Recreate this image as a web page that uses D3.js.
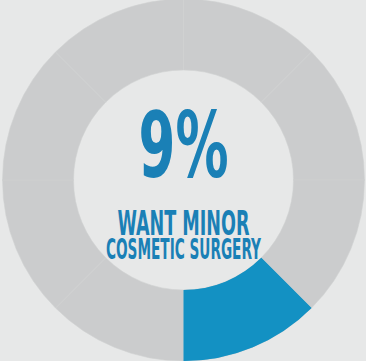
<!DOCTYPE html>
<html><head><meta charset="utf-8">
<script src="https://cdn.jsdelivr.net/npm/d3@7"></script>
<style>html,body{margin:0;padding:0;background:#e7e8e8;overflow:hidden}</style>
</head><body>
<script>
const segments = ["S1","S2","S3","S4","S5","S6","S7","S8"];
const segmentValues = [1,1,1,1,1,1,1,1];
const highlighted = [false,false,false,true,false,false,false,false];
const percentLabel = "9%";
const captionLines = ["WANT MINOR","COSMETIC SURGERY"];

const W = 366, H = 361;
const cx = 183.5, cy = 180, rOuter = 181, rInner = 110;
const svg = d3.select("body").append("svg").attr("width", W).attr("height", H);
svg.append("rect").attr("width", W).attr("height", H).attr("fill", "#e7e8e8");

const pie = d3.pie().value(d => d).sort(null);
const arc = d3.arc().innerRadius(rInner).outerRadius(rOuter);
const g = svg.append("g").attr("transform", `translate(${cx},${cy})`);
const arcs = pie(segmentValues);
g.selectAll("path.seg").data(arcs).join("path")
  .attr("class","seg")
  .attr("d", arc)
  .attr("fill", (d,i) => highlighted[i] ? "#1391c3" : "#cbcccd")
  .attr("stroke", "#d0d1d2")
  .attr("stroke-width", 0.6);
g.selectAll("path.hl").data(arcs.filter((d,i)=>highlighted[i])).join("path")
  .attr("class","hl").attr("d", arc).attr("fill","#1391c3");

const font = "'Liberation Sans Narrow','Arial Narrow','DejaVu Sans Condensed',sans-serif";
const t = svg.append("g").attr("fill","#1a80b6").attr("font-family", font).attr("font-weight","bold").attr("text-anchor","middle");
t.append("text").attr("x", cx).attr("y", 177).attr("font-size", 90)
  .attr("textLength", 90).attr("lengthAdjust","spacingAndGlyphs").text(percentLabel);
t.append("text").attr("x", cx).attr("y", 235).attr("font-size", 33)
  .attr("textLength", 132).attr("lengthAdjust","spacingAndGlyphs").text(captionLines[0]);
t.append("text").attr("x", cx).attr("y", 259).attr("font-size", 27.5)
  .attr("textLength", 155).attr("lengthAdjust","spacingAndGlyphs").text(captionLines[1]);
</script>
</body></html>
